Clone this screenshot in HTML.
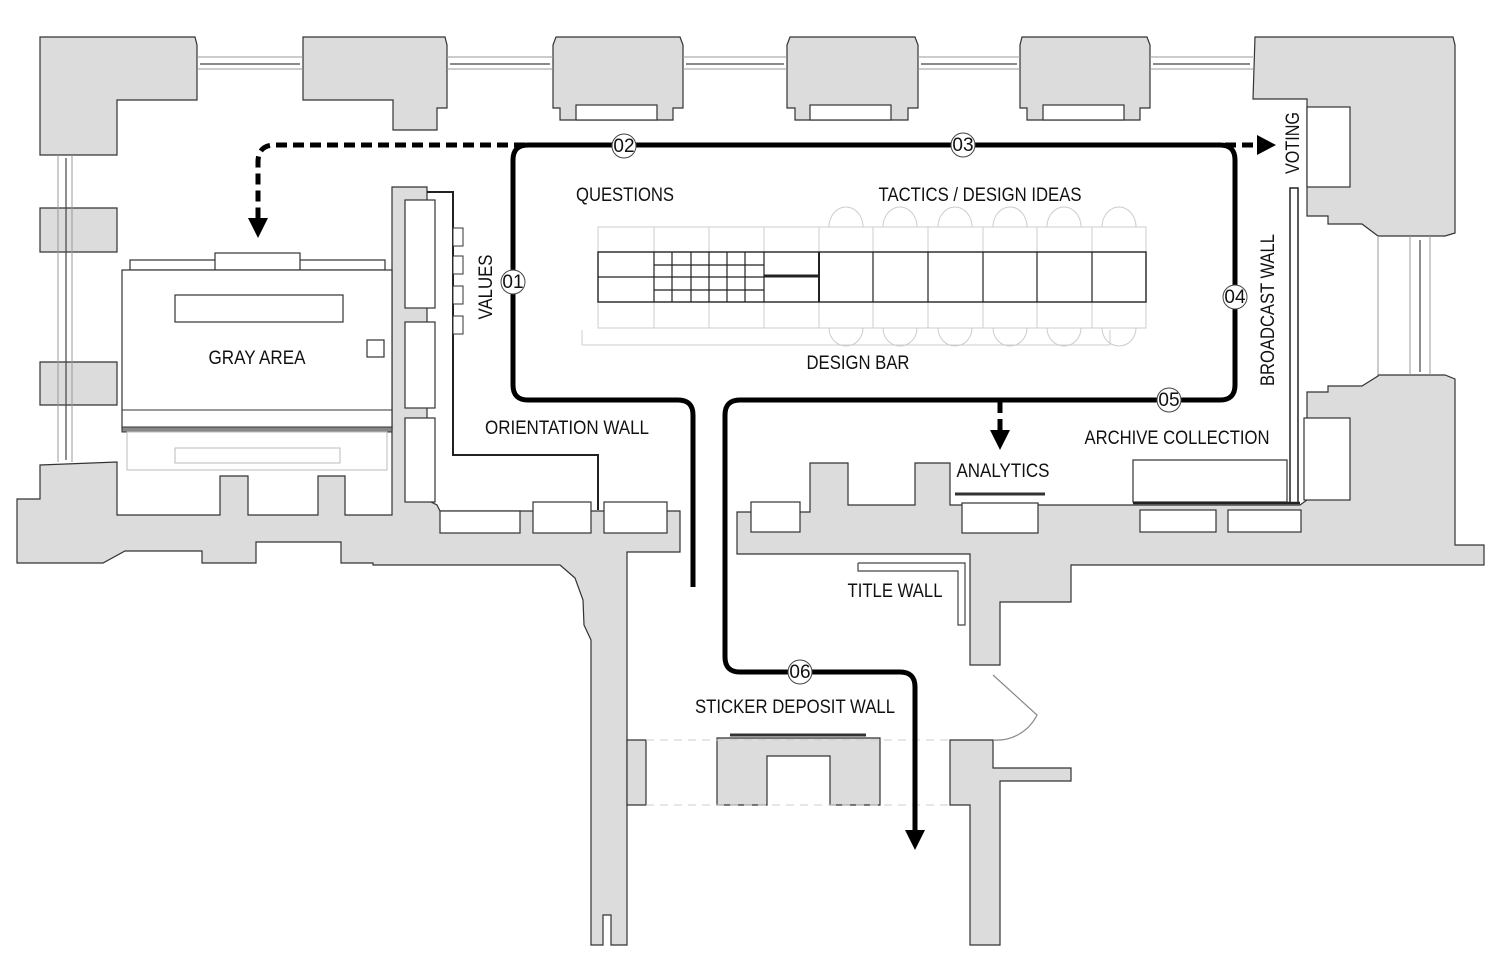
<!DOCTYPE html>
<html><head><meta charset="utf-8"><style>
html,body{margin:0;padding:0;background:#fff;}
svg{display:block}
text{font-family:"Liberation Sans",sans-serif;font-size:19px;fill:#111;}
</style></head><body>
<svg width="1500" height="959" viewBox="0 0 1500 959" xmlns="http://www.w3.org/2000/svg">
<g fill="#dcdcdc" stroke="#333" stroke-width="1.2">
<!-- top left corner -->
<polygon points="40,37 195,37 197,45 197,100 117,100 117,155 40,155"/>
<!-- top pillars -->
<polygon points="303,37 445,37 447,45 447,108 437,108 437,130 393,130 393,100 303,100"/>
<polygon points="556,37 680,37 683,45 683,108 673,108 673,120 560,120 560,108 553,108 553,45"/>
<polygon points="790,37 915,37 918,45 918,108 908,108 908,120 795,120 795,108 787,108 787,45"/>
<polygon points="1022,37 1147,37 1150,45 1150,108 1140,108 1140,120 1027,120 1027,108 1020,108 1020,45"/>
<!-- top right corner -->
<polygon points="1255,37 1453,37 1455,45 1455,233 1445,236 1378,236 1362,224 1328,224 1328,216 1307,216 1307,99 1253,99"/>
<polygon points="1378,375 1445,375 1455,379 1455,545 1484,545 1484,565 1071,565 1071,602 1000,602 1000,665 970,665 970,554 737,554 737,512 810,512 810,463 848,463 848,505 915,505 915,463 950,463 950,505 1300,505 1307,500 1307,392 1328,392 1328,386 1362,386 1378,376"/>
<!-- left side blocks -->
<polygon points="40,208 117,208 117,252 40,252"/>
<polygon points="40,362 117,362 117,405 40,405"/>
<!-- bottom-left band -->
<polygon points="40,465 117,462 117,515 220,515 220,476 248,476 248,515 318,515 318,476 345,476 345,515 392,515 392,187 427,187 427,500 437,505 440,511 680,511 680,552 627,552 627,945 611,945 611,915 603,915 603,945 591,945 591,640 584,625 583,600 575,578 560,565 373,565 373,563 341,563 341,542 256,542 256,563 202,563 202,551 125,551 103,563 17,563 17,499 40,499"/>
<!-- lower right column -->
<polygon points="970,740 993,740 993,768 1071,768 1071,781 1000,781 1000,945 970,945 970,805 950,805 950,740"/>
<!-- corridor pilaster left -->
<polygon points="627,740 646,740 646,805 627,805"/>
<!-- sticker block -->
<polygon points="717,738 880,738 880,805 830,805 830,756 767,756 767,805 717,805"/>
</g>
<g fill="#fff" stroke="#333" stroke-width="1.2">
<rect x="576" y="105" width="81" height="15"/>
<rect x="810" y="105" width="81" height="15"/>
<rect x="1043" y="105" width="81" height="15"/>
<rect x="1307" y="107" width="43" height="80"/>
<rect x="1304" y="418" width="46" height="82"/>
<rect x="405" y="200" width="30" height="108"/>
<rect x="405" y="322" width="30" height="86"/>
<rect x="405" y="418" width="30" height="84"/>
<rect x="440" y="511" width="80" height="22"/>
<rect x="533" y="502" width="58" height="31"/>
<rect x="604" y="502" width="63" height="31"/>
<rect x="751" y="502" width="49" height="30"/>
<rect x="962" y="503" width="76" height="30"/>
<rect x="1140" y="510" width="76" height="22"/>
<rect x="1228" y="510" width="73" height="22"/>
<rect x="1133" y="460" width="154" height="42"/>
</g>
<!-- windows -->
<g stroke="#999" stroke-width="1" fill="none">
<line x1="197" y1="57" x2="303" y2="57"/><line x1="197" y1="69" x2="303" y2="69"/>
<line x1="447" y1="57" x2="553" y2="57"/><line x1="447" y1="69" x2="553" y2="69"/>
<line x1="683" y1="57" x2="787" y2="57"/><line x1="683" y1="69" x2="787" y2="69"/>
<line x1="918" y1="57" x2="1020" y2="57"/><line x1="918" y1="69" x2="1020" y2="69"/>
<line x1="1150" y1="57" x2="1253" y2="57"/><line x1="1150" y1="69" x2="1253" y2="69"/>
<line x1="58" y1="155" x2="58" y2="462"/><line x1="72" y1="155" x2="72" y2="462"/>
<line x1="1410" y1="236" x2="1410" y2="375"/><line x1="1430" y1="236" x2="1430" y2="375"/>
<line x1="1378" y1="236" x2="1378" y2="375"/>
</g>
<g stroke="#444" stroke-width="1.2" fill="none">
<line x1="200" y1="64" x2="300" y2="64"/><line x1="450" y1="64" x2="550" y2="64"/>
<line x1="686" y1="64" x2="784" y2="64"/><line x1="921" y1="64" x2="1017" y2="64"/>
<line x1="1153" y1="64" x2="1250" y2="64"/>
<line x1="66" y1="158" x2="66" y2="460"/><line x1="1420" y1="240" x2="1420" y2="372"/>
</g>
<!-- gray area room -->
<g stroke="#333" stroke-width="1.2" fill="#fff">
<rect x="130" y="260" width="255" height="10"/>
<rect x="215" y="253" width="85" height="17"/>
<rect x="122" y="270" width="270" height="160"/>
<rect x="175" y="295" width="168" height="27"/>
<rect x="367" y="340" width="17" height="17"/>
</g>
<line x1="122" y1="410" x2="392" y2="410" stroke="#333"/>
<rect x="122" y="427" width="270" height="5" fill="#888" stroke="#333"/>
<g stroke="#bbb" fill="none"><rect x="127" y="432" width="260" height="38"/><rect x="175" y="448" width="165" height="15"/></g>
<!-- values wall -->
<polyline points="427,192 453,192 453,455 598,455 598,510" fill="none" stroke="#222" stroke-width="2"/>
<g fill="#fff" stroke="#333"><rect x="453" y="228" width="10" height="18"/><rect x="453" y="256" width="10" height="18"/><rect x="453" y="286" width="10" height="18"/><rect x="453" y="316" width="10" height="18"/></g>
<!-- design bar -->
<g stroke="#ccc" fill="none" stroke-width="1">
<rect x="598" y="227" width="548" height="101"/>
<line x1="582" y1="345" x2="1110" y2="345"/><line x1="582" y1="330" x2="582" y2="345"/><line x1="1110" y1="330" x2="1110" y2="345"/>
<path d="M829,227 A17,20 0 0 1 863,227 M883,227 A17,20 0 0 1 917,227 M938,227 A17,20 0 0 1 972,227 M993,227 A17,20 0 0 1 1027,227 M1047,227 A17,20 0 0 1 1081,227 M1102,227 A17,20 0 0 1 1136,227"/>
<path d="M829,328 A17,18 0 0 0 863,328 M883,328 A17,18 0 0 0 917,328 M938,328 A17,18 0 0 0 972,328 M993,328 A17,18 0 0 0 1027,328 M1047,328 A17,18 0 0 0 1081,328 M1102,328 A17,18 0 0 0 1136,328"/>
<line x1="654" y1="227" x2="654" y2="328"/><line x1="709" y1="227" x2="709" y2="328"/><line x1="764" y1="227" x2="764" y2="328"/><line x1="819" y1="227" x2="819" y2="328"/><line x1="873" y1="227" x2="873" y2="328"/><line x1="928" y1="227" x2="928" y2="328"/><line x1="983" y1="227" x2="983" y2="328"/><line x1="1037" y1="227" x2="1037" y2="328"/><line x1="1092" y1="227" x2="1092" y2="328"/>
</g>
<g stroke="#222" stroke-width="1.4" fill="#fff">
<rect x="598" y="252" width="548" height="50"/>
</g>
<g stroke="#222" stroke-width="1.2" fill="none">
<line x1="598" y1="277" x2="654" y2="277"/>
<line x1="654" y1="252" x2="654" y2="302"/><line x1="764" y1="252" x2="764" y2="302"/>
<line x1="819" y1="252" x2="819" y2="302" stroke-width="2"/>
<line x1="873" y1="252" x2="873" y2="302"/><line x1="928" y1="252" x2="928" y2="302"/><line x1="983" y1="252" x2="983" y2="302"/><line x1="1037" y1="252" x2="1037" y2="302"/><line x1="1092" y1="252" x2="1092" y2="302"/>
<line x1="672" y1="252" x2="672" y2="302"/><line x1="691" y1="252" x2="691" y2="302"/><line x1="709" y1="252" x2="709" y2="302"/><line x1="727" y1="252" x2="727" y2="302"/><line x1="745" y1="252" x2="745" y2="302"/>
<line x1="654" y1="265" x2="764" y2="265"/><line x1="654" y1="277" x2="764" y2="277"/><line x1="654" y1="290" x2="764" y2="290"/>
<line x1="764" y1="276" x2="819" y2="276" stroke-width="3"/>
</g>
<!-- broadcast wall -->
<rect x="1290" y="188" width="8" height="315" fill="#fff" stroke="#222" stroke-width="1.5"/>
<line x1="1133" y1="503" x2="1300" y2="503" stroke="#222" stroke-width="2.5"/>
<line x1="955" y1="494" x2="1045" y2="494" stroke="#333" stroke-width="3"/>
<line x1="730" y1="735" x2="866" y2="735" stroke="#333" stroke-width="3"/>
<!-- title wall -->
<polyline points="858,563 965,563 965,625 958,625 958,571 858,571 858,563" fill="#fff" stroke="#444" stroke-width="1.2"/>
<!-- door -->
<path d="M993,675 L1037,715 A45,45 0 0 1 993,740" fill="none" stroke="#888" stroke-width="1.2"/>
<g stroke="#ccc" stroke-dasharray="8,6"><line x1="646" y1="740" x2="950" y2="740"/><line x1="646" y1="805" x2="950" y2="805"/></g>
<!-- paths -->
<g fill="none" stroke="#000" stroke-width="5">
<path d="M693,587 V415 Q693,400 678,400 H528 Q513,400 513,385 V160 Q513,145 528,145 H1220 Q1235,145 1235,160 V385 Q1235,400 1220,400 H740 Q725,400 725,415 V657 Q725,672 740,672 H900 Q915,672 915,687 V832"/>
</g>
<polygon points="905,830 925,830 915,850" fill="#000"/>
<g fill="none" stroke="#000" stroke-width="5" stroke-dasharray="11,6">
<path d="M525,145 H275 Q258,145 258,162 V218"/>
<path d="M1225,145 H1258"/>
<path d="M1000,402 V432"/>
</g>
<polygon points="248,218 268,218 258,238" fill="#000"/>
<polygon points="1257,135 1257,155 1276,145" fill="#000"/>
<polygon points="990,430 1010,430 1000,450" fill="#000"/>
<!-- circles -->
<g fill="#fff" stroke="#444" stroke-width="1"><circle cx="624" cy="146" r="12"/><circle cx="963" cy="145" r="12"/><circle cx="513" cy="282" r="12"/><circle cx="1235" cy="297" r="12"/><circle cx="1169" cy="400" r="12"/><circle cx="800" cy="672" r="12"/></g>
<g text-anchor="middle" style="font-size:17px">
<text x="624" y="152">02</text><text x="963" y="151">03</text><text x="513" y="288">01</text><text x="1235" y="303">04</text><text x="1169" y="406">05</text><text x="800" y="678">06</text>
</g>
<!-- labels -->
<g text-anchor="middle">
<text x="625" y="201" textLength="98" lengthAdjust="spacingAndGlyphs">QUESTIONS</text>
<text x="980" y="201" textLength="203" lengthAdjust="spacingAndGlyphs">TACTICS / DESIGN IDEAS</text>
<text x="257" y="364" textLength="97" lengthAdjust="spacingAndGlyphs">GRAY AREA</text>
<text x="858" y="369" textLength="103" lengthAdjust="spacingAndGlyphs">DESIGN BAR</text>
<text x="567" y="434" textLength="164" lengthAdjust="spacingAndGlyphs">ORIENTATION WALL</text>
<text x="1177" y="444" textLength="185" lengthAdjust="spacingAndGlyphs">ARCHIVE COLLECTION</text>
<text x="1003" y="477" textLength="93" lengthAdjust="spacingAndGlyphs">ANALYTICS</text>
<text x="895" y="597" textLength="95" lengthAdjust="spacingAndGlyphs">TITLE WALL</text>
<text x="795" y="713" textLength="200" lengthAdjust="spacingAndGlyphs">STICKER DEPOSIT WALL</text>
<text transform="translate(492,287) rotate(-90)" textLength="65" lengthAdjust="spacingAndGlyphs">VALUES</text>
<text transform="translate(1299,143) rotate(-90)" textLength="62" lengthAdjust="spacingAndGlyphs">VOTING</text>
<text transform="translate(1274,310) rotate(-90)" textLength="152" lengthAdjust="spacingAndGlyphs">BROADCAST WALL</text>
</g>
</svg>
</body></html>
